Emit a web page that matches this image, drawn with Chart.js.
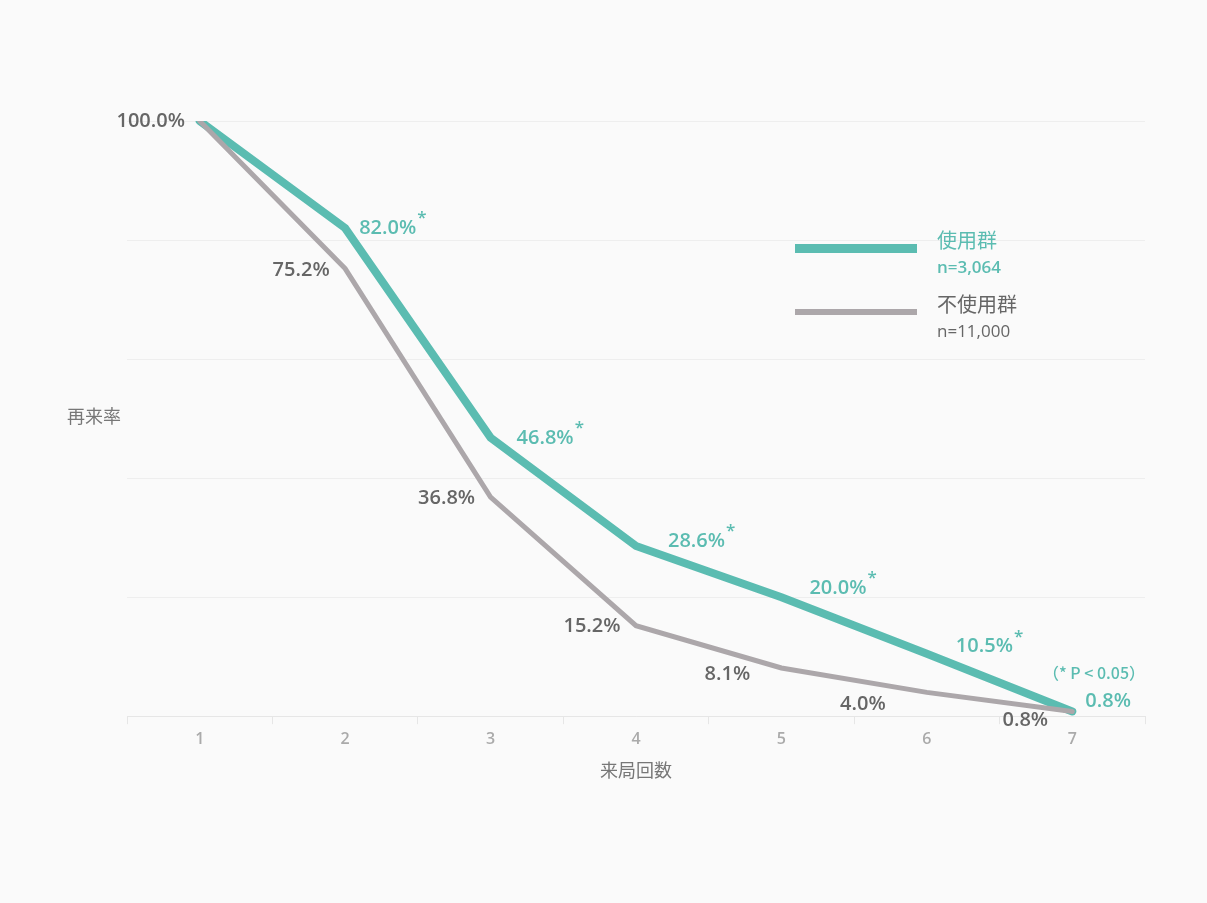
<!DOCTYPE html>
<html>
<head>
<meta charset="utf-8">
<script src="https://cdn.jsdelivr.net/npm/chart.js@4.4.1/dist/chart.umd.min.js"></script>
<style>
  html, body { margin: 0; padding: 0; background: #fafafa; }
  #wrap { width: 1207px; height: 903px; }
</style>
</head>
<body>
<div id="wrap"><canvas id="chart" width="1207" height="903"></canvas></div>
<script>
// ===== DATA =====
const visits = ['1', '2', '3', '4', '5', '6', '7'];
const usedRates = [100, 82.0, 46.8, 28.6, 20.0, 10.5, 0.8];
const unusedRates = [100, 75.2, 36.8, 15.2, 8.1, 4.0, 0.8];
const usedSignificant = [false, true, true, true, true, true, false];
const usedLabel = '使用群';
const usedN = 'n=3,064';
const unusedLabel = '不使用群';
const unusedN = 'n=11,000';

const TEAL = '#5bbcb1';
const GRAY_LINE = '#aca7aa';
const GRAY_TEXT = '#666666';
const FONT = '"Open Sans", "Noto Sans CJK JP", sans-serif';
const CJK = '"Noto Sans CJK JP", sans-serif';

// ===== CUSTOM DRAWING (labels, legend, titles) =====
const annotate = {
  id: 'annotate',
  afterDatasetsDraw(chart) {
    const ctx = chart.ctx;
    const xs = chart.scales.x;
    const ys = chart.scales.y;
    ctx.save();
    ctx.textBaseline = 'middle';

    // used group labels (right of point)
    const usedOffs = [null, [14, 0], [26, 1], [32, -5], [28, -9], [29, -7], [13, -10]];
    usedRates.forEach((v, i) => {
      if (i === 0) return;
      const x = xs.getPixelForValue(i);
      const y = ys.getPixelForValue(v);
      const txt = v.toFixed(1) + '%';
      const lx = x + usedOffs[i][0], ly = y + usedOffs[i][1];
      ctx.font = '600 20px ' + FONT;
      ctx.fillStyle = TEAL;
      ctx.textAlign = 'left';
      ctx.fillText(txt, lx, ly);
      if (usedSignificant[i]) {
        const w = ctx.measureText(txt).width;
        ctx.font = '600 17px ' + FONT;
        ctx.fillText('*', lx + w + 1, ly - 10);
      }
    });

    // unused group labels (left of point)
    ctx.fillStyle = GRAY_TEXT;
    ctx.textAlign = 'center';
    ctx.font = '600 20px ' + FONT;
    const offs = [[-49, 0], [-44, 2], [-44, 1], [-44, 1], [-54, 6], [-64, 12], [-47, 9]];
    unusedRates.forEach((v, i) => {
      const x = xs.getPixelForValue(i);
      const y = ys.getPixelForValue(v);
      ctx.fillText(v.toFixed(1) + '%', x + offs[i][0], y + offs[i][1]);
    });

    // significance note
    ctx.fillStyle = TEAL;
    ctx.font = '500 16px ' + CJK;
    ctx.textAlign = 'center';
    ctx.fillText('（* P < 0.05）', 1094, 673);

    // legend
    ctx.fillStyle = TEAL;
    ctx.fillRect(795, 244, 122, 9);
    ctx.fillStyle = GRAY_LINE;
    ctx.fillRect(795, 309, 122, 6);
    ctx.textAlign = 'left';
    ctx.font = '20px ' + FONT;
    ctx.fillStyle = TEAL;
    ctx.fillText(usedLabel, 937, 242);
    ctx.font = '600 17px ' + FONT;
    ctx.fillText(usedN, 937, 268);
    ctx.font = '20px ' + FONT;
    ctx.fillStyle = GRAY_TEXT;
    ctx.fillText(unusedLabel, 937, 306);
    ctx.font = '17px ' + FONT;
    ctx.fillText(unusedN, 937, 332);

    // y axis title (horizontal)
    ctx.fillStyle = '#777777';
    ctx.font = '18px ' + FONT;
    ctx.textAlign = 'center';
    ctx.fillText('再来率', 94, 418);
    ctx.restore();
  }
};

new Chart(document.getElementById('chart'), {
  type: 'line',
  data: {
    labels: visits,
    datasets: [
      {
        label: usedLabel,
        data: usedRates,
        borderColor: TEAL,
        borderWidth: 8,
        borderCapStyle: 'round',
        pointRadius: 0,
        tension: 0,
        order: 1
      },
      {
        label: unusedLabel,
        data: unusedRates,
        borderColor: GRAY_LINE,
        borderWidth: 5,
        borderCapStyle: 'round',
        pointRadius: 0,
        tension: 0,
        order: 0
      }
    ]
  },
  options: {
    responsive: false,
    animation: false,
    layout: { padding: { left: 127, right: 62, top: 121, bottom: 116 } },
    plugins: {
      legend: { display: false },
      tooltip: { enabled: false }
    },
    scales: {
      x: {
        offset: true,
        grid: { offset: true, drawOnChartArea: false, drawTicks: true, tickLength: 8, color: '#e6e6e6' },
        border: { color: '#e6e6e6' },
        ticks: { color: '#aaaaaa', font: { family: FONT, size: 16, weight: '600' }, padding: 6 },
        title: { display: true, text: '来局回数', color: '#777777', font: { family: FONT, size: 18 }, padding: { top: 6 } }
      },
      y: {
        min: 0,
        max: 100,
        ticks: { display: false, stepSize: 20 },
        grid: { color: '#eeeeee', drawTicks: false },
        border: { display: false }
      }
    }
  },
  plugins: [annotate]
});
</script>
</body>
</html>
